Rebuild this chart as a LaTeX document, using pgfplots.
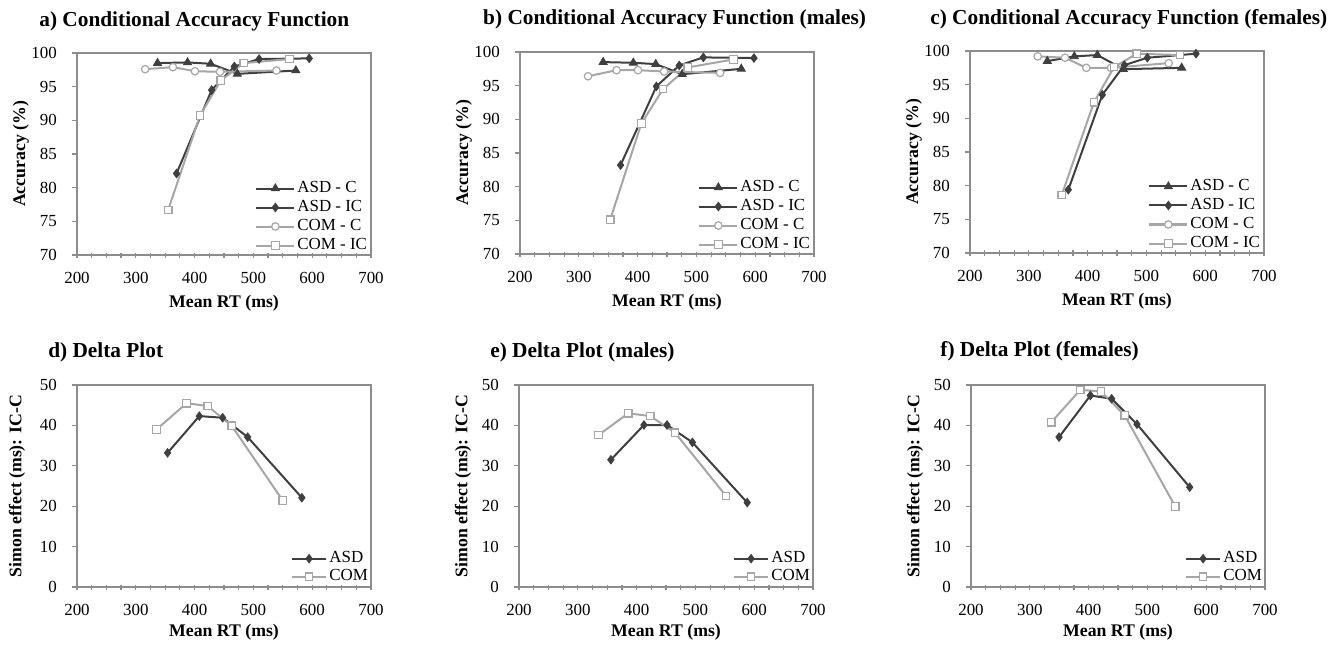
\documentclass[border=0pt]{standalone}
\usepackage{fontspec}
\setmainfont{Liberation Serif}
\usepackage{pgfplots}
\pgfplotsset{compat=1.18}
\definecolor{asd}{HTML}{3F3F3F}
\definecolor{com}{HTML}{A6A6A6}
\definecolor{framec}{HTML}{8C8C8C}
\newcommand\tickfont{\fontsize{12.7pt}{15pt}\selectfont}
\newcommand\labfont{\fontsize{13.3pt}{16pt}\selectfont\bfseries}
\newcommand\titfont{\fontsize{16pt}{19pt}\selectfont\bfseries}
\pgfplotsset{
  every axis title shift=0pt,
  panel/.style={
    scale only axis, width=220.5pt, height=151.5pt, clip=false,
    xmin=200, xmax=700, xtick={200,300,...,700}, minor x tick num=3,
    axis line style={draw=framec, line width=0.9pt},
    every tick/.style={draw=framec, line width=0.9pt},
    major tick length=3.75pt, minor tick length=3.75pt,
    xtick align=center, ytick align=outside,
    xtick pos=bottom, ytick pos=left,
    /pgf/number format/assume math mode=true,
    /pgf/number format/1000 sep={},
    ticklabel style={font=\tickfont, text=black},
    xticklabel style={anchor=base, yshift=-19.5pt},
    yticklabel style={anchor=east, inner sep=0pt, xshift=-11.25pt},
    label style={font=\labfont},
    xlabel={Mean RT (ms)},
    title style={font=\titfont, anchor=base west, inner sep=0pt},
    every axis plot/.append style={line width=1.5pt},
  },
  caf/.style={panel, ymin=70, ymax=100, ytick={70,75,...,100},
    ylabel={Accuracy (\%)},
    xlabel style={at={(axis description cs:0.5,-0.262)}, anchor=base},
    ylabel style={at={(axis description cs:-0.1905,0.5)}, anchor=center},
    legend style={at={(axis description cs:1,0)}, anchor=south east, xshift=-3pt, yshift=0pt,
      draw=none, fill=none, inner sep=0pt, outer sep=0pt, row sep=0pt, column sep=1.5pt,
      font=\tickfont, nodes={inner sep=0pt, text height=10pt, text depth=4.25pt}},
    legend cell align=left,
    legend image code/.code={\draw[mark repeat=2, mark phase=2, ##1] plot coordinates {(0pt,0pt) (14.25pt,0pt) (28.5pt,0pt)};},
  },
  delta/.style={panel, ymin=0, ymax=50, ytick={0,10,...,50},
    ylabel={Simon effect (ms): IC-C},
    xlabel style={at={(axis description cs:0.5,-0.2475)}, anchor=base},
    ylabel style={at={(axis description cs:-0.1905,0.5)}, anchor=center},
    legend style={at={(axis description cs:1,0)}, anchor=south east, xshift=-2.25pt, yshift=1pt,
      draw=none, fill=none, inner sep=0pt, outer sep=0pt, row sep=0pt, column sep=1.5pt,
      font=\tickfont, nodes={inner sep=0pt, text height=9.5pt, text depth=4pt}},
    legend cell align=left,
    legend image code/.code={\draw[mark repeat=2, mark phase=2, ##1] plot coordinates {(0pt,0pt) (13pt,0pt) (26pt,0pt)};},
  },
  asdC/.style={color=asd, mark=triangle*, mark size=3.5pt, mark options={solid, fill=asd, line width=0.6pt}},
  asdIC/.style={color=asd, mark=diamond*, mark size=3.2pt, mark options={solid, fill=asd, line width=0.6pt}},
  comC/.style={color=com, mark=*, mark size=2.8pt, mark options={solid, fill=white, draw=com, line width=0.9pt}},
  comIC/.style={color=com, mark=square*, mark size=2.8pt, mark options={solid, fill=white, draw=com, line width=0.9pt}},
}
\begin{document}
\begin{tikzpicture}
\path[use as bounding box] (0pt,0pt) rectangle (1006.5pt,-483.75pt);
% a)
\begin{axis}[caf, at={(57.75pt,-191.25pt)}, anchor=south west,
  title={a) Conditional Accuracy Function}, title style={at={(axis description cs:-0.129,1.133)}}]
\addplot[asdC] coordinates {(336.9,98.5) (388,98.6) (427.3,98.4) (472.7,96.9) (572.2,97.4)};
\addplot[asdIC] coordinates {(369.3,82.1) (429,94.5) (467.6,98.0) (509.7,99.1) (594.9,99.2)};
\addplot[comC] coordinates {(315.9,97.6) (363.1,97.9) (400.6,97.3) (443.2,97.2) (539.2,97.4)};
\addplot[comIC] coordinates {(355.1,76.7) (409.1,90.7) (444.3,95.9) (483.5,98.5) (561.4,99.1)};
\legend{ASD - C, ASD - IC, COM - C, COM - IC}
\end{axis}
% b)
\begin{axis}[caf, at={(390pt,-190.5pt)}, anchor=south west,
  title={b) Conditional Accuracy Function (males)}, title style={at={(axis description cs:-0.126,1.134)}}]
\addplot[asdC] coordinates {(341.4,98.5) (392.7,98.4) (430.9,98.2) (475.9,96.7) (576.3,97.5)};
\addplot[asdIC] coordinates {(371.0,83.2) (432.0,94.9) (470.8,98.0) (511.8,99.2) (597.9,99.1)};
\addplot[comC] coordinates {(315.7,96.4) (364.2,97.3) (400.7,97.3) (445.1,97.1) (540.3,96.9)};
\addplot[comIC] coordinates {(353.4,75.1) (406.4,89.4) (443.4,94.5) (485.1,97.7) (563.2,98.9)};
\legend{ASD - C, ASD - IC, COM - C, COM - IC}
\end{axis}
% c)
\begin{axis}[caf, at={(727.5pt,-189.75pt)}, anchor=south west,
  title={c) Conditional Accuracy Function (females)}, title style={at={(axis description cs:-0.136,1.129)}}]
\addplot[asdC] coordinates {(331.5,98.5) (377.4,99.2) (416.6,99.4) (460.8,97.3) (560.0,97.5)};
\addplot[asdIC] coordinates {(367.2,79.4) (425.1,93.5) (462.5,97.9) (501.6,99.0) (584.4,99.6)};
\addplot[comC] coordinates {(315.1,99.2) (361.6,99.0) (397.8,97.5) (439.8,97.5) (537.9,98.2)};
\addplot[comIC] coordinates {(355.9,78.6) (410.9,92.4) (444.9,97.6) (483.4,99.6) (557.2,99.4)};
\legend{ASD - C, ASD - IC, COM - C, COM - IC}
\end{axis}
% d)
\begin{axis}[delta, at={(57.75pt,-440.25pt)}, anchor=south west,
  ylabel style={at={(axis description cs:-0.204,0.5)}},
  title={d) Delta Plot}, title style={at={(axis description cs:-0.0986,1.134)}}]
\addplot[asdIC] coordinates {(354.0,33.2) (408.0,42.3) (447.7,41.9) (490.3,37.1) (582.4,22.1)};
\addplot[comIC] coordinates {(335.2,39.0) (386.4,45.5) (422.2,44.8) (463.1,39.9) (550.0,21.4)};
\legend{ASD, COM}
\end{axis}
% e)
\begin{axis}[delta, at={(389.25pt,-440.25pt)}, anchor=south west,
  title={e) Delta Plot (males)}, title style={at={(axis description cs:-0.0986,1.134)}}]
\addplot[asdIC] coordinates {(356.3,31.5) (412.5,40.1) (451.7,40.1) (494.9,35.8) (588.1,20.9)};
\addplot[comIC] coordinates {(335.2,37.6) (385.8,43.0) (423.3,42.3) (465.3,38.2) (552.3,22.5)};
\legend{ASD, COM}
\end{axis}
% f)
\begin{axis}[delta, at={(728.25pt,-440.25pt)}, anchor=south west,
  title={f) Delta Plot (females)}, title style={at={(axis description cs:-0.105,1.139)}}]
\addplot[asdIC] coordinates {(349.7,37.1) (403.0,47.4) (439.2,46.6) (482.3,40.3) (571.9,24.7)};
\addplot[comIC] coordinates {(336.6,40.8) (385.9,48.8) (421.1,48.4) (461.3,42.5) (547.5,19.9)};
\legend{ASD, COM}
\end{axis}
\end{tikzpicture}
\end{document}
